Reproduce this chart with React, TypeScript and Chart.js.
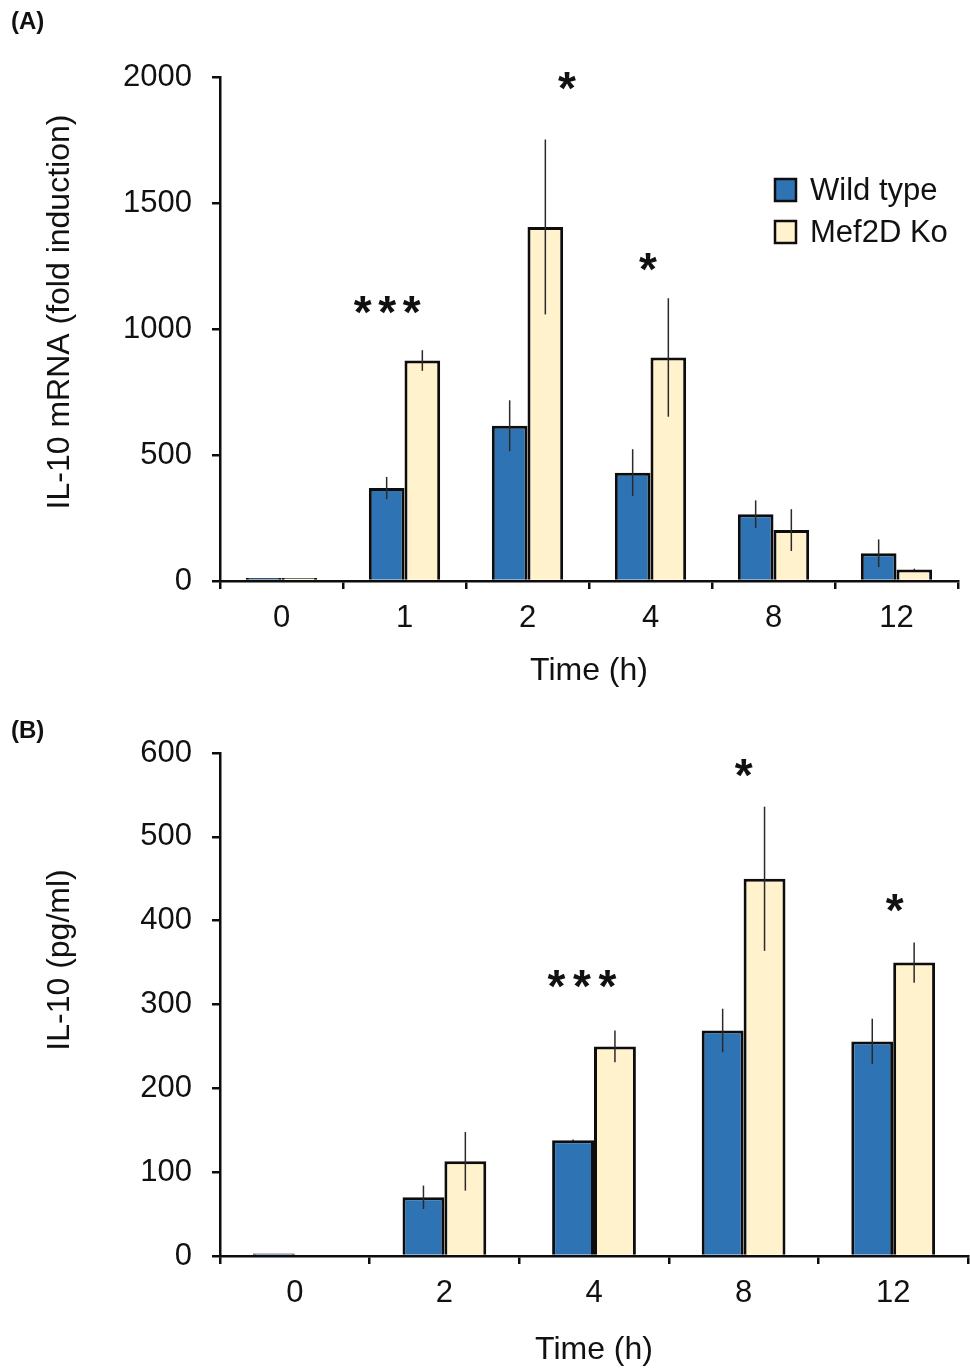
import React, { useEffect, useRef } from 'react';
import { Chart, registerables } from 'chart.js';

Chart.register(...registerables);

const FONT = '"Liberation Sans", Arial, Helvetica, sans-serif';
const BLUE = '#2E74B5';
const CREAM = '#FFF2CC';
const EDGE = '#0d0d0d';
const TEXT = '#111111';

// ---- Panel A: IL-10 mRNA ----
const timesA = ['0', '1', '2', '4', '8', '12'];
const wildTypeA = [12, 369, 616, 430, 265, 110];
const wildTypeErrA = [0, 44, 101, 93, 55, 55];
const mef2dKoA = [12, 875, 1405, 887, 202, 46];
const mef2dKoErrA = [0, 41, 347, 235, 83, 3];
const starTextA = ['***', '*', '*'];
const starCatA = [1, 2, 3];
const starValueA = [1095, 1984, 1266];
const yMaxA = 2000;
const yStepA = 500;

// ---- Panel B: IL-10 protein ----
const timesB = ['0', '2', '4', '8', '12'];
const wildTypeB = [3, 70, 138, 269, 256];
const wildTypeErrB = [0, 14, 1, 26, 27];
const mef2dKoB = [0, 113, 250, 450, 350];
const mef2dKoErrB = [0, 35, 19, 86, 24];
const starTextB = ['***', '*', '*'];
const starCatB = [2, 3, 4];
const starValueB = [331, 582, 421];
const yMaxB = 600;
const yStepB = 100;

const seriesNames = ['Wild type', 'Mef2D Ko'];

const errorBarPlugin = {
  id: 'errorBars',
  afterDatasetsDraw(chart: any, _a: any, opts: any) {
    const { ctx } = chart;
    const y = chart.scales.y;
    (opts.errors || []).forEach((errs: number[], i: number) => {
      const meta = chart.getDatasetMeta(i);
      const data = chart.data.datasets[i].data as number[];
      meta.data.forEach((bar: any, j: number) => {
        const e = errs[j];
        if (!e) return;
        const v = data[j];
        ctx.save();
        ctx.strokeStyle = '#2a2a2a';
        ctx.lineWidth = 1.5;
        ctx.beginPath();
        ctx.moveTo(bar.x, y.getPixelForValue(v + e));
        ctx.lineTo(bar.x, y.getPixelForValue(Math.max(0, v - e)));
        ctx.stroke();
        ctx.restore();
      });
    });
  },
};

const annotationPlugin = {
  id: 'annotations',
  afterDraw(chart: any, _a: any, opts: any) {
    const { ctx } = chart;
    const x = chart.scales.x;
    const y = chart.scales.y;
    const catW = (x.right - x.left) / chart.data.labels.length;
    // significance stars
    ctx.save();
    ctx.fillStyle = TEXT;
    ctx.font = `bold ${opts.starFont}px ${FONT}`;
    ctx.textAlign = 'center';
    ctx.textBaseline = 'alphabetic';
    const m = ctx.measureText('*');
    const asc = m.actualBoundingBoxAscent;
    const desc = m.actualBoundingBoxDescent;
    (opts.starText || []).forEach((t: string, k: number) => {
      const cx = x.getPixelForValue(opts.starCat[k]) + opts.starOffset[k] * catW;
      const cy = y.getPixelForValue(opts.starValue[k]);
      const n = t.length;
      for (let s = 0; s < n; s++) {
        const sx = cx + (s - (n - 1) / 2) * opts.starPitch;
        ctx.fillText('*', sx, cy + (asc - desc) / 2);
      }
    });
    ctx.restore();

    // panel label
    ctx.save();
    ctx.fillStyle = TEXT;
    ctx.font = `bold 24px ${FONT}`;
    ctx.textAlign = 'left';
    ctx.textBaseline = 'alphabetic';
    ctx.fillText(opts.panel, 11, opts.panelY);
    ctx.restore();

    // y axis title
    ctx.save();
    ctx.fillStyle = TEXT;
    ctx.font = `32px ${FONT}`;
    ctx.textAlign = 'center';
    ctx.textBaseline = 'middle';
    ctx.translate(opts.yTitleX, opts.yTitleY);
    ctx.rotate(-Math.PI / 2);
    ctx.fillText(opts.yTitle, 0, 0);
    ctx.restore();

    // legend
    if (opts.legend) {
      ctx.save();
      chart.data.datasets.forEach((ds: any, i: number) => {
        const bx = 775;
        const by = 179 + i * 42;
        ctx.fillStyle = ds.backgroundColor;
        ctx.fillRect(bx, by, 21, 22);
        ctx.strokeStyle = EDGE;
        ctx.lineWidth = 2.5;
        ctx.strokeRect(bx, by, 21, 22);
        ctx.fillStyle = TEXT;
        ctx.font = `31px ${FONT}`;
        ctx.textAlign = 'left';
        ctx.textBaseline = 'middle';
        ctx.fillText(ds.label, 810, by + 12);
      });
      ctx.restore();
    }
  },
};

function makeConfig(p: any): any {
  return {
    type: 'bar',
    data: {
      labels: p.labels,
      datasets: [
        {
          label: seriesNames[0],
          data: p.wt,
          backgroundColor: BLUE,
          borderColor: EDGE,
          borderWidth: 3,
          borderSkipped: 'start',
          barPercentage: 1,
          categoryPercentage: p.catPct,
        },
        {
          label: seriesNames[1],
          data: p.ko,
          backgroundColor: CREAM,
          borderColor: EDGE,
          borderWidth: 3,
          borderSkipped: 'start',
          barPercentage: 1,
          categoryPercentage: p.catPct,
        },
      ],
    },
    options: {
      responsive: false,
      animation: false,
      devicePixelRatio: 1,
      layout: { padding: { top: p.padTop, right: p.padRight, left: 0, bottom: 0 } },
      plugins: {
        legend: { display: false },
        tooltip: { enabled: false },
        errorBars: { errors: [p.wtErr, p.koErr] },
        annotations: {
          starText: p.starText,
          starCat: p.starCat,
          starValue: p.starValue,
          starOffset: p.starOffset,
          starPitch: p.starPitch,
          starFont: 46,
          panel: p.panel,
          panelY: p.panelY,
          yTitle: p.yTitle,
          yTitleX: 60,
          yTitleY: p.yTitleY,
          legend: p.legend,
        },
      },
      scales: {
        x: {
          type: 'category',
          offset: true,
          grid: {
            display: true,
            offset: true,
            drawOnChartArea: false,
            drawTicks: true,
            tickLength: 8,
            color: EDGE,
            lineWidth: 2.5,
          },
          border: { display: true, color: EDGE, width: 2.5 },
          ticks: { font: { family: FONT, size: 31 }, color: TEXT, padding: 11 },
          title: {
            display: true,
            text: 'Time (h)',
            font: { family: FONT, size: 32 },
            color: TEXT,
            padding: { top: 0, bottom: p.xTitlePad },
          },
          afterFit: (s: any) => {
            s.height = p.xHeight;
          },
        },
        y: {
          type: 'linear',
          min: 0,
          max: p.yMax,
          ticks: {
            stepSize: p.yStep,
            font: { family: FONT, size: 31 },
            color: TEXT,
            padding: 20,
            callback: (v: any) => String(v),
          },
          grid: {
            display: true,
            drawOnChartArea: false,
            drawTicks: true,
            tickLength: 8,
            color: EDGE,
            lineWidth: 2.5,
          },
          border: { display: true, color: EDGE, width: 2.5 },
          afterFit: (s: any) => {
            s.width = 220;
          },
        },
      },
    },
    plugins: [errorBarPlugin, annotationPlugin],
  };
}

export default function App() {
  const refA = useRef<HTMLCanvasElement>(null);
  const refB = useRef<HTMLCanvasElement>(null);

  useEffect(() => {
    const chartA = new Chart(
      refA.current as HTMLCanvasElement,
      makeConfig({
        labels: timesA,
        wt: wildTypeA,
        ko: mef2dKoA,
        wtErr: wildTypeErrA,
        koErr: mef2dKoErrA,
        catPct: 0.58,
        padTop: 77,
        padRight: 12,
        xHeight: 119,
        xTitlePad: 10,
        yMax: yMaxA,
        yStep: yStepA,
        starText: starTextA,
        starCat: starCatA,
        starValue: starValueA,
        starOffset: [-0.14, 0.32, -0.02],
        starPitch: 24.5,
        panel: '(A)',
        panelY: 29,
        yTitle: 'IL-10 mRNA (fold induction)',
        yTitleY: 312,
        legend: true,
      })
    );
    const chartB = new Chart(
      refB.current as HTMLCanvasElement,
      makeConfig({
        labels: timesB,
        wt: wildTypeB,
        ko: mef2dKoB,
        wtErr: wildTypeErrB,
        koErr: mef2dKoErrB,
        catPct: 0.56,
        padTop: 53,
        padRight: 2,
        xHeight: 113,
        xTitlePad: 0,
        yMax: yMaxB,
        yStep: yStepB,
        starText: starTextB,
        starCat: starCatB,
        starValue: starValueB,
        starOffset: [-0.08, 0.0, 0.01],
        starPitch: 25.5,
        panel: '(B)',
        panelY: 38,
        yTitle: 'IL-10 (pg/ml)',
        yTitleY: 260,
        legend: false,
      })
    );
    return () => {
      chartA.destroy();
      chartB.destroy();
    };
  }, []);

  return (
    <div style={{ position: 'absolute', left: 0, top: 0, width: 970, height: 1369, background: '#fff' }}>
      <canvas ref={refA} width={970} height={700} style={{ position: 'absolute', left: 0, top: 0, width: 970, height: 700 }} />
      <canvas ref={refB} width={970} height={669} style={{ position: 'absolute', left: 0, top: 700, width: 970, height: 669 }} />
    </div>
  );
}
